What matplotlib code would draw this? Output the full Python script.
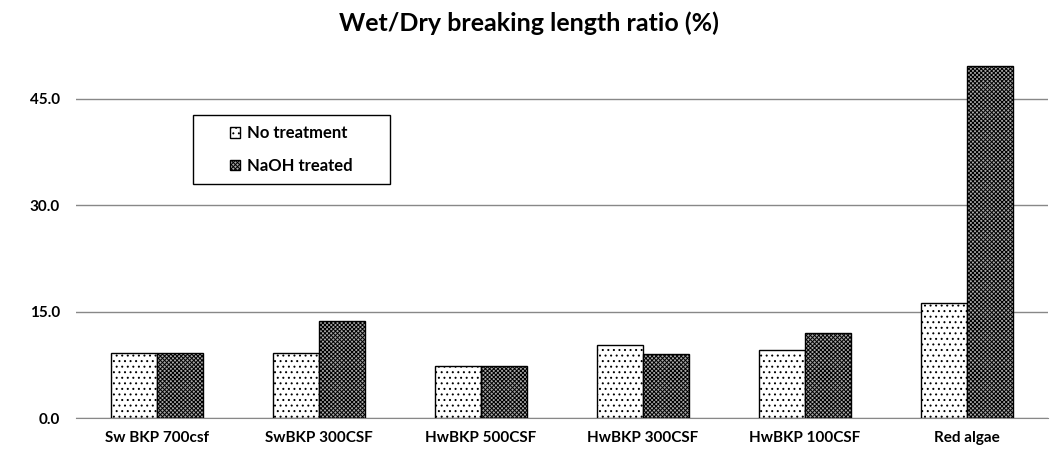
import numpy as np
import matplotlib.pyplot as plt
from matplotlib.patches import Rectangle

plt.rcParams['font.family'] = ['Lato', 'DejaVu Sans']
plt.rcParams['hatch.linewidth'] = 0.7

categories = ['Sw BKP 700csf', 'SwBKP 300CSF', 'HwBKP 500CSF', 'HwBKP 300CSF', 'HwBKP 100CSF', 'Red algae']
no_treatment = [9.2, 9.2, 7.3, 10.3, 9.6, 16.2]
naoh_treated = [9.2, 13.7, 7.3, 9.0, 12.0, 49.6]
yticks = [0.0, 15.0, 30.0, 45.0]

fig = plt.figure(figsize=(10.58, 4.62), dpi=100)
ax = fig.add_axes([0.0718, 0.0952, 0.9187, 0.775])

x = np.arange(len(categories))
w = 0.284
ax.bar(x - w / 2, no_treatment, w, facecolor='white', edgecolor='black', linewidth=1.0,
       hatch='...', label='No treatment', zorder=3)
ax.bar(x + w / 2, naoh_treated, w, facecolor='#a8a8a8', edgecolor='black', linewidth=1.0,
       hatch='xxxxxxxx', label='NaOH treated', zorder=3)

ax.set_xlim(-0.5, 5.5)
ax.set_ylim(0, 50.5)
ax.set_yticks(yticks)
ax.set_yticklabels([f'{v:.1f}' for v in yticks], fontsize=11, fontweight='bold')
ax.set_xticks(x)
ax.set_xticklabels(categories, fontsize=11, fontweight='bold')
ax.tick_params(axis='y', length=0, pad=11.5)
ax.tick_params(axis='x', length=0, pad=9)
ax.yaxis.grid(True, color='#888888', linewidth=1.0, zorder=0)
for s in ['top', 'right', 'left']:
    ax.spines[s].set_visible(False)
ax.spines['bottom'].set_color('#888888')

fig.suptitle('Wet/Dry breaking length ratio (%)', fontsize=18, fontweight='bold', y=0.975)

# legend box drawn separately so it can be wider than its contents
box = Rectangle((0.1824, 0.6017), 0.1862, 0.1494, transform=fig.transFigure,
                facecolor='white', edgecolor='black', linewidth=1.0, zorder=5, clip_on=False)
ax.add_patch(box)
leg = ax.legend(loc='center', bbox_to_anchor=(0.2755, 0.6764), bbox_transform=fig.transFigure,
                frameon=False, prop={'size': 12, 'weight': 'bold'},
                handlelength=0.6, handleheight=0.6, labelspacing=1.0, handletextpad=0.4)
leg.set_zorder(6)

fig.savefig('out.png', dpi=100)
